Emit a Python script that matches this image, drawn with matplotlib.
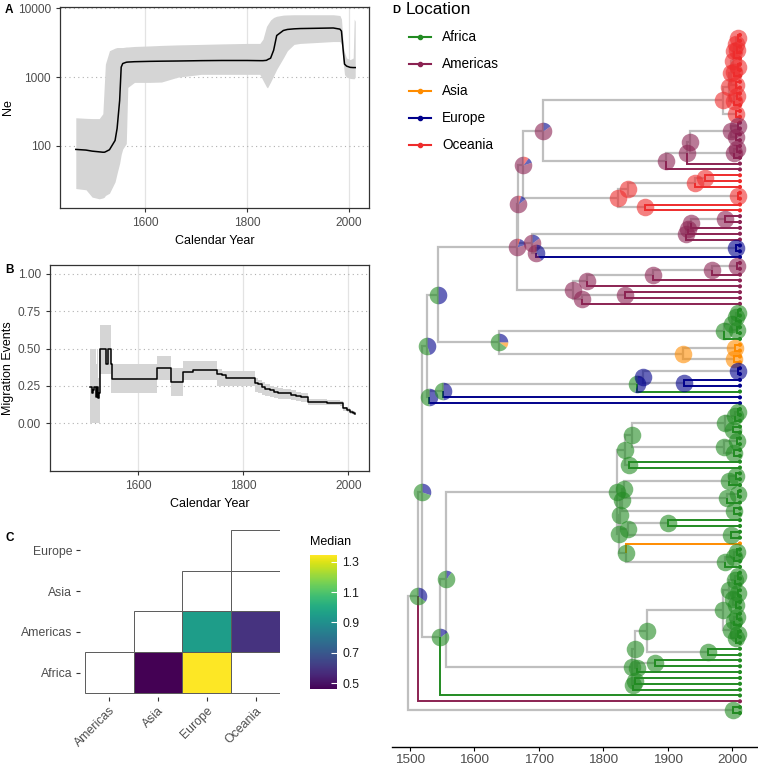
import re
import matplotlib
matplotlib.use("Agg")
import matplotlib.pyplot as plt
import numpy as np
from matplotlib.collections import LineCollection
from matplotlib.lines import Line2D
from matplotlib.patches import Rectangle
from matplotlib.colors import Normalize
from matplotlib.cm import ScalarMappable

plt.rcParams['font.family'] = ['Liberation Sans', 'DejaVu Sans']

W, H = 758, 768

# ---------------- data: panel A (Ne skyline) ----------------
ne_years = [1464, 1484, 1496, 1510, 1517, 1520, 1522, 1530, 1541, 1545, 1550, 1553, 1556,
            1563, 1566, 1579, 1609, 1632, 1664, 1710, 1750, 1800, 1825, 1831, 1838, 1840,
            1846, 1852, 1858, 1871, 1879, 1892, 1904, 1938, 1969, 1982, 1985, 1989, 1991,
            1995, 2002, 2008, 2010, 2012]
ne_med = [89, 87, 84, 82, 81, 81, 82, 88, 120, 180, 460, 1400, 1580,
          1650, 1660, 1680, 1700, 1710, 1720, 1740, 1750, 1750, 1740, 1740, 1760, 1800,
          1890, 2470, 4040, 4780, 4950, 5050, 5100, 5150, 5200, 5000, 4680, 2200, 1550,
          1450, 1390, 1380, 1380, 1380]
ne_lo = [24, 23, 18, 17, 17.5, 18, 19, 20.5, 30, 40, 56, 75, 90,
         108, 710, 840, 840, 850, 1000, 1100, 1100, 1100, 1100, 900, 720, 700,
         850, 1050, 1300, 1900, 2430, 3000, 3100, 3200, 3300, 3300, 3000, 1500, 1090,
         1000, 960, 950, 950, 1000]
ne_hi = [257, 252, 250, 250, 294, 800, 1550, 2430, 2650, 2700, 2700, 2700, 2700,
         2750, 2750, 2800, 2850, 2900, 2950, 3000, 3050, 3100, 3100, 3570, 5490, 5800,
         6800, 7400, 7700, 8000, 8050, 8100, 8100, 8100, 8100, 7900, 7000, 2700, 2300,
         1900, 1800, 1900, 7000, 6500]

# ---------------- data: panel B (migration events) ----------------
mig_years = [1509, 1512, 1514, 1517, 1520, 1523, 1525, 1527, 1528, 1540, 1543, 1548, 1551,
             1636, 1663, 1686, 1705, 1751, 1759, 1768, 1822, 1828, 1835, 1842, 1850, 1858,
             1866, 1876, 1890, 1900, 1910, 1924, 1940, 1960, 1984, 1990, 1997, 2003, 2008, 2012]
mig_med = [0.245, 0.20, 0.223, 0.245, 0.178, 0.245, 0.17, 0.20, 0.50, 0.40, 0.50, 0.40, 0.295,
           0.368, 0.275, 0.346, 0.357, 0.33, 0.32, 0.30, 0.268, 0.26, 0.24, 0.23, 0.22, 0.21,
           0.205, 0.20, 0.19, 0.185, 0.178, 0.145, 0.14, 0.137, 0.134, 0.10, 0.088, 0.078, 0.068, 0.06]
mig_lo = [0.0, 0.0, 0.0, 0.0, 0.0, 0.0, 0.0, 0.0, 0.33, 0.33, 0.33, 0.2, 0.2,
          0.29, 0.18, 0.29, 0.29, 0.25, 0.25, 0.25, 0.21, 0.20, 0.19, 0.18, 0.175, 0.17,
          0.165, 0.16, 0.155, 0.15, 0.145, 0.125, 0.12, 0.12, 0.115, 0.08, 0.075, 0.065, 0.055, 0.05]
mig_hi = [0.5, 0.5, 0.5, 0.5, 0.4, 0.5, 0.3, 0.5, 0.66, 0.66, 0.66, 0.4, 0.4,
          0.45, 0.37, 0.42, 0.42, 0.36, 0.35, 0.35, 0.30, 0.29, 0.275, 0.26, 0.25, 0.24,
          0.235, 0.23, 0.22, 0.21, 0.20, 0.165, 0.16, 0.155, 0.15, 0.11, 0.10, 0.09, 0.08, 0.07]

# ---------------- data: panel C (pairwise rates) ----------------
nan = np.nan
pair_rows = ['Africa', 'Americas', 'Asia', 'Europe']
pair_cols = ['Americas', 'Asia', 'Europe', 'Oceania']
pair_median = [[nan, 0.46, 1.344, nan],
               [None, nan, 0.95, 0.59],
               [None, None, nan, nan],
               [None, None, None, nan]]

# ---------------- data: panel D (tree) ----------------
locations = ['Africa', 'Americas', 'Asia', 'Europe', 'Oceania']
loc_codes = ['F', 'M', 'S', 'E', 'O']
loc_colors = ['#228B22', '#8B2252', '#FF8C00', '#00008B', '#EE2C2C']
tip_year = 2012.5

oc_d = "(((O,O)O@2010,(O,O)O@2008)O@2006,O)O@2003"
oc_c = f"({oc_d},((O,O)O@2009,O)O@2004)O@2001"
oc_b = f"({oc_c},(O,O)O@2007)O@1999"
oc_a = f"({oc_b},((O,O)O@2008,O)O@2003)O@1995"
oceania = f"({oc_a},(O,O)O@2006)O@1986"
am_a = "(((((M,M)M@2010,(M,M)M@2006)M@1998,((M,M)M@2008,M)M@2003)M@1935,M)M@1930,M)M@1897"
p1 = f"({oceania},{am_a})M85E15@1706"
oc_b2 = "((((O,O)O@1958,O)O@1942,(O,O)O@2009)O@1838,(O,O)O@1865)O@1823"
q2 = f"({p1},{oc_b2})M80E10O10@1675"
am_c = "((((M,M)M@1990,M)M@1937,M)M@1932,M)M@1929"
eu_1 = "((E,E)E@2006,E)M60E40@1695"
q5 = f"({am_c},{eu_1})M85E15@1690"
q3 = f"({q2},{q5})M85E10O5@1668"
am_d = "(((((M,M)M@2008,M)M@1969,M)M@1877,M)M@1775,((M,M)M@1834,M)M@1767)M@1753"
am_oc = f"({q3},{am_d})M80E15O5@1666"
af_1 = "((((F,F)F@2010,F)F@2006,(F,F)F@2008)F@2000,F)F@1988"
as_1 = "((S,S)S@2005,(S,S)S@2003)S@1924"
n1638 = f"({af_1},{as_1})F65E25S10@1638"
n1543 = f"({am_oc},{n1638})F50E50@1543"
n1852 = "(((E,E)E@2010,(E,E)E@1925)E@1862,F)F45E55@1852"
n1530 = f"(({n1852},E)F50E50@1551,E)F50E50@1530"
n1526 = f"({n1543},{n1530})F55E45@1526"
c1 = "(((F,F)F@2010,F)F@2005,(F,F)F@2002)F@1990"
c2 = "((F,F)F@2008,(F,F)F@2004)F@1988"
c3 = "((F,F)F@2007,F)F@1995"
c4 = "((F,F)F@2009,F)F@1992"
c5 = "(F,F)F@2003"
c6 = "(F,F)F@1998"
c7 = "(((F,F)F@2008,F)F@2004,F)F@1990"
af_a = (f"((({c1},{c2})F@1845,(F,F)F@1840)F@1834,(((({c3},{c4})F@1833,{c5})F@1829,"
        f"((F,F)F@1900,{c6})F@1838)F@1826,(S,{c7})F@1836)F@1824)F@1821")
c8 = ("((((F,F)F@2009,F)F@2005,((F,F)F@2010,(F,F)F@2007)F@2001)F@1995,"
      "(((F,F)F@2008,F)F@2003,((F,F)F@2009,F)F@2006)F@1998)F@1986")
af_b = f"((({c8},(F,F)F@1963)F@1868,((F,F)F@1880,F)F@1852)F@1850,((F,F)F@1849,F)F@1847)F@1845"
n1556 = f"({af_a},{af_b})F90E10@1556"
n1547 = f"({n1556},F)F85E15@1547"
n1518 = f"({n1526},{n1547})F70E30@1518"
n1512 = f"({n1518},M)F65E35@1512"
tree_str = f"({n1512},(F,F)F@2002)-@1497"


def box(l, t, r, b):
    return [l / W, 1 - b / H, (r - l) / W, (b - t) / H]


def style_panel(ax, yticks):
    for s in ax.spines.values():
        s.set_color('#333333')
        s.set_linewidth(0.9)
    ax.tick_params(length=3, width=0.8, color='#333333', labelcolor='#4d4d4d', labelsize=8.6)
    ax.set_xticks([1600, 1800, 2000])
    ax.set_xticklabels(['1600', '1800', '2000'])
    for x in [1600, 1800, 2000]:
        ax.axvline(x, color='#e3e3e3', lw=0.9, zorder=0)
    for y in yticks:
        ax.axhline(y, color='#b0b0b0', lw=0.8, ls=(0, (1, 3)), zorder=0)
    ax.set_xlim(1433, 2039)


fig = plt.figure(figsize=(W / 100, H / 100), dpi=100)

# ---- A
axA = fig.add_axes(box(60, 7, 369, 208))
axA.fill_between(ne_years, ne_lo, ne_hi, color='#d5d5d5', lw=0, zorder=1)
axA.plot(ne_years, ne_med, color='black', lw=1.1, zorder=2)
axA.set_yscale('log')
axA.set_ylim(12.5, 10500)
axA.set_yticks([100, 1000, 10000])
axA.set_yticklabels(['100', '1000', '10000'])
axA.minorticks_off()
style_panel(axA, [100, 1000, 10000])
axA.set_xlabel('Calendar Year', fontsize=9)
axA.set_ylabel('Ne', fontsize=9)
axA.yaxis.set_label_coords((14 - 60) / 309, 0.5)

# ---- B
axB = fig.add_axes(box(50, 265, 369, 471))
axB.fill_between(mig_years, mig_lo, mig_hi, step='post', color='#d5d5d5', lw=0, zorder=1)
axB.step(mig_years, mig_med, where='post', color='black', lw=1.1, zorder=2)
axB.set_ylim(-0.32, 1.06)
axB.set_yticks([0, 0.25, 0.5, 0.75, 1.0])
axB.set_yticklabels(['0.00', '0.25', '0.50', '0.75', '1.00'])
style_panel(axB, [0, 0.25, 0.5, 0.75, 1.0])
axB.set_xlabel('Calendar Year', fontsize=9)
axB.set_ylabel('Migration Events', fontsize=9)
axB.yaxis.set_label_coords((14 - 50) / 319, 0.5)

# ---- C
norm = Normalize(0.46, 1.344)
cmap = plt.get_cmap('viridis')
axC = fig.add_axes(box(80, 530, 280, 697))
for i, row in enumerate(pair_median):
    for j, v in enumerate(row):
        if v is None:
            continue
        face = 'white' if np.isnan(v) else cmap(norm(v))
        axC.add_patch(Rectangle((j, i), 1, 1, facecolor=face, edgecolor='#5a5a5a', lw=0.7))
axC.set_xlim(-0.1, 4)
axC.set_ylim(-0.1, 4)
for s in axC.spines.values():
    s.set_visible(False)
axC.set_xticks(np.arange(4) + 0.5)
axC.set_xticklabels(pair_cols, rotation=45, ha='right', rotation_mode='anchor')
axC.set_yticks(np.arange(4) + 0.5)
axC.set_yticklabels(pair_rows)
axC.tick_params(length=3, width=0.8, color='#333333', labelcolor='#4d4d4d', labelsize=8.8, pad=2.5)

cax = fig.add_axes(box(310, 555, 336.7, 689.3))
cb = fig.colorbar(ScalarMappable(norm=norm, cmap=cmap), cax=cax)
cb.set_ticks([0.5, 0.7, 0.9, 1.1, 1.3])
cb.outline.set_visible(False)
cax.tick_params(color='white', length=4, width=0.8, direction='in', labelsize=8.8,
                labelcolor='#1a1a1a', pad=4)
fig.text(310 / W, 1 - 541.7 / H, 'Median', fontsize=9, va='center', ha='left')

# ---- D (tree)


def parse_tree(s):
    pos = [0]

    def read():
        if s[pos[0]] == '(':
            pos[0] += 1
            kids = [read()]
            while s[pos[0]] == ',':
                pos[0] += 1
                kids.append(read())
            pos[0] += 1
            label = re.match(r'[^,)]*', s[pos[0]:]).group(0)
            pos[0] += len(label)
            comp, year = label.split('@')
            return {'kids': kids, 'comp': comp, 'year': float(year)}
        loc = s[pos[0]]
        pos[0] += 1
        return {'kids': [], 'comp': loc, 'year': tip_year}
    return read()


root = parse_tree(tree_str)
tips = []


def layout(node):
    if not node['kids']:
        node['y'] = len(tips)
        tips.append(node)
    else:
        for k in node['kids']:
            layout(k)
        node['y'] = np.mean([k['y'] for k in node['kids']])


layout(root)
n_tips = len(tips)
col_of = dict(zip(loc_codes, loc_colors))

gray_segs, col_segs, col_cols, nodes = [], [], [], []


def walk(node):
    if node['kids'] and node['comp'] != '-':
        nodes.append(node)
    for k in node['kids']:
        seg = [(node['year'], node['y']), (node['year'], k['y']), (k['year'], k['y'])]
        if k['kids']:
            gray_segs.append(seg)
        else:
            col_segs.append(seg)
            col_cols.append(col_of[k['comp']])
        walk(k)


walk(root)

axD = fig.add_axes(box(392, 0, 757, 747))
sp = 678 / (n_tips - 1)
axD.set_xlim(1472, 2039)
axD.set_ylim((747 - 35) / sp, -35 / sp)
axD.add_collection(LineCollection(gray_segs, colors='#bfbfbf', linewidths=1.6, zorder=1,
                                  joinstyle='miter'))
axD.add_collection(LineCollection(col_segs, colors=col_cols, linewidths=1.4, zorder=2,
                                  joinstyle='miter'))
axD.scatter([t['year'] for t in tips], [t['y'] for t in tips], s=9,
            c=[col_of[t['comp']] for t in tips], lw=0, zorder=3)

pie_size = 160
pie_order = ['O', 'E', 'S', 'M', 'F']  # clockwise from 12 o'clock
for nd in nodes:
    parts = {c: (float(p) if p else 100.0) / 100 for c, p in re.findall(r'([FMSEO])(\d*)', nd['comp'])}
    start = 0.0
    for code in pie_order:
        f = parts.get(code, 0)
        if f <= 0:
            continue
        if f > 0.999:
            axD.scatter([nd['year']], [nd['y']], s=pie_size, color=col_of[code], alpha=0.6,
                        lw=0, zorder=4)
            break
        th = np.linspace(2 * np.pi * start, 2 * np.pi * (start + f), max(4, int(f * 90)))
        xy = np.column_stack([np.r_[0, np.sin(th), 0], np.r_[0, np.cos(th), 0]])
        m = np.abs(xy).max()
        axD.scatter([nd['year']], [nd['y']], marker=xy, s=pie_size * m ** 2,
                    color=col_of[code], alpha=0.6, lw=0, zorder=4)
        start += f

for side in ['left', 'right', 'top']:
    axD.spines[side].set_visible(False)
axD.spines['bottom'].set_linewidth(1.0)
axD.set_yticks([])
axD.set_xticks([1500, 1600, 1700, 1800, 1900, 2000])
axD.tick_params(axis='x', length=3, width=0.8, labelsize=9.7, labelcolor='#4d4d4d', pad=2)

# legend of panel D
fig.text(392 / W, 1 - 10 / H, 'D', fontsize=8, weight='bold', va='center', ha='left')
fig.text(406 / W, 1 - 9 / H, 'Location', fontsize=12.4, va='center', ha='left')
for k, (name, c) in enumerate(zip(locations, loc_colors)):
    yy = 1 - (37 + 27 * k) / H
    fig.add_artist(Line2D([409 / W, 431 / W], [yy, yy], color=c, lw=1.5))
    fig.add_artist(Line2D([420 / W], [yy], marker='o', ms=3, color=c, lw=0))
    fig.text(442 / W, yy, name, fontsize=9.8, va='center', ha='left')

# panel letters
fig.text(5 / W, 1 - 10 / H, 'A', fontsize=8.5, weight='bold', va='center', ha='left')
fig.text(5 / W, 1 - 270 / H, 'B', fontsize=8.5, weight='bold', va='center', ha='left')
fig.text(5 / W, 1 - 538 / H, 'C', fontsize=8.5, weight='bold', va='center', ha='left')

fig.savefig('out.png', dpi=100)
